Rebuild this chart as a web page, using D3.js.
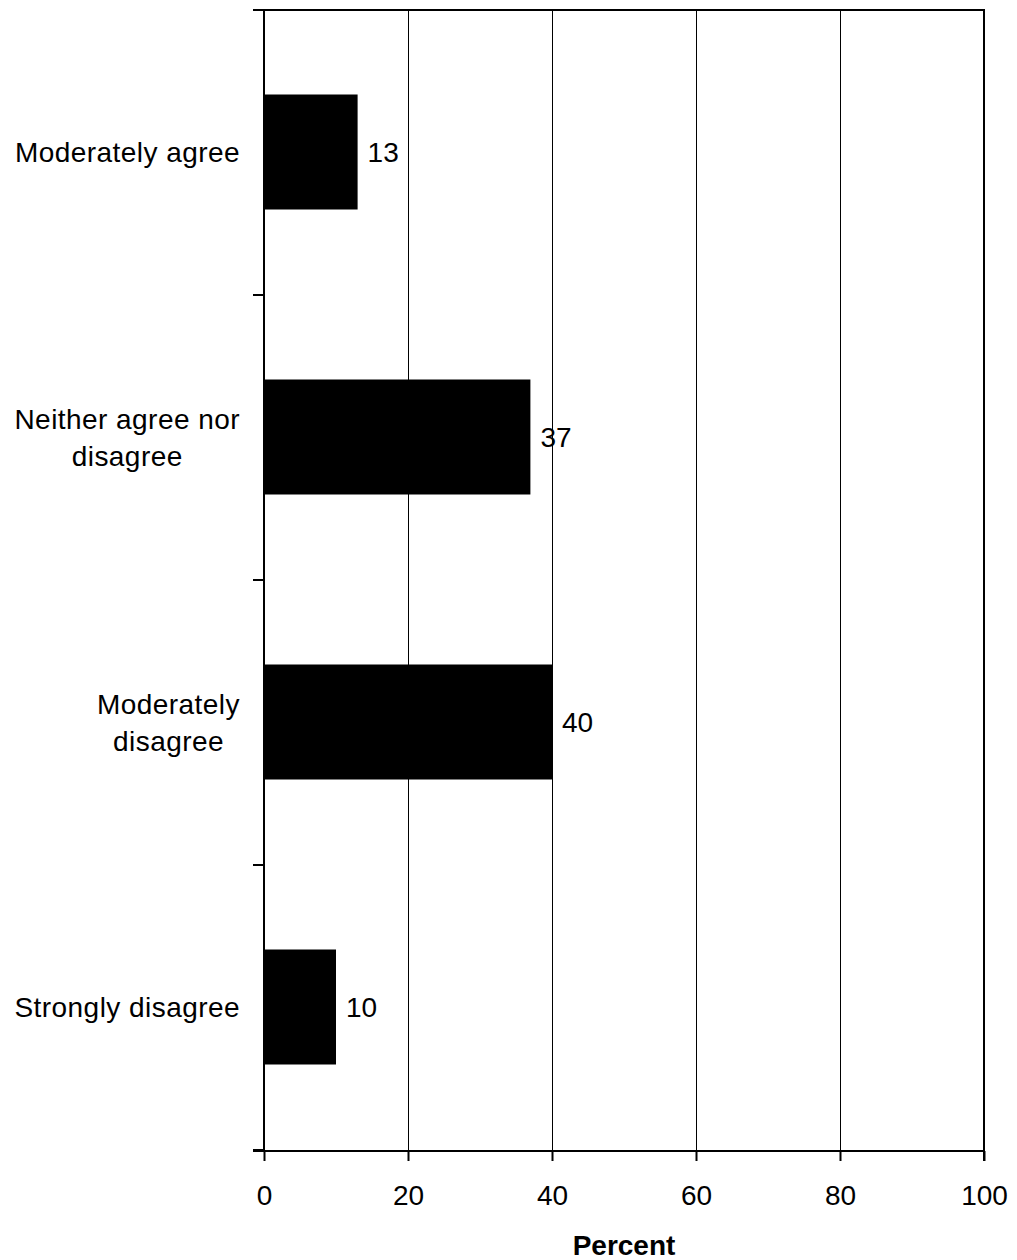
<!DOCTYPE html>
<html>
<head>
<meta charset="utf-8">
<script src="https://cdn.jsdelivr.net/npm/d3@7"></script>
<style>
  html, body { margin: 0; padding: 0; background: #fff; }
  svg { display: block; font-family: "Liberation Sans", Arial, sans-serif; }
</style>
</head>
<body>
<svg id="chart" width="1017" height="1260"></svg>
<script>
// Survey responses (percent of respondents)
const categories = ["Moderately agree", "Neither agree nor disagree", "Moderately disagree", "Strongly disagree"];
const categoryLines = [["Moderately agree"], ["Neither agree nor", "disagree"], ["Moderately", "disagree"], ["Strongly disagree"]];
const values = [13, 37, 40, 10];
const xTicks = [0, 20, 40, 60, 80, 100];
const xTitle = "Percent";

(function drawChart() {
  const svg = d3.select("#chart");
  const fontSize = 28;
  const plotLeft = 264, plotRight = 984, plotTop = 10, plotBottom = 1150;

  const x = d3.scaleLinear().domain([0, 100]).range([plotLeft, plotRight]);
  const y = d3.scaleBand().domain(categories).range([plotTop, plotBottom])
    .paddingInner(0.6).paddingOuter(0.3);

  // vertical gridlines
  svg.append("g").selectAll("line")
    .data(xTicks.filter(t => t > 0 && t < 100))
    .join("line")
    .attr("x1", d => x(d)).attr("x2", d => x(d))
    .attr("y1", plotTop).attr("y2", plotBottom)
    .attr("stroke", "#000").attr("stroke-width", 1)
    .attr("shape-rendering", "crispEdges");

  // bars
  svg.append("g").selectAll("rect")
    .data(categories)
    .join("rect")
    .attr("x", x(0))
    .attr("y", d => y(d) - 1)
    .attr("width", (d, i) => x(values[i]) - x(0))
    .attr("height", y.bandwidth() + 1)
    .attr("fill", "#000");

  // value labels
  svg.append("g").selectAll("text")
    .data(categories)
    .join("text")
    .attr("x", (d, i) => x(values[i]) + 10)
    .attr("y", d => y(d) + y.bandwidth() / 2)
    .attr("dy", "0.35em")
    .attr("font-size", fontSize)
    .attr("fill", "#000")
    .text((d, i) => values[i]);

  // top and right frame lines
  svg.append("line")
    .attr("x1", plotLeft - 11).attr("x2", plotRight + 1)
    .attr("y1", plotTop).attr("y2", plotTop)
    .attr("stroke", "#000").attr("stroke-width", 2);
  svg.append("line")
    .attr("x1", plotRight).attr("x2", plotRight)
    .attr("y1", plotTop - 1).attr("y2", plotBottom + 11)
    .attr("stroke", "#000").attr("stroke-width", 2);

  // x axis
  const xAxis = svg.append("g")
    .attr("transform", `translate(0,${plotBottom + 1})`)
    .call(d3.axisBottom(x).tickValues(xTicks).tickSize(10).tickSizeOuter(0).tickPadding(24));
  xAxis.select(".domain").attr("stroke-width", 2).attr("d", `M${plotLeft - 11},0H${plotRight + 1}`);
  xAxis.selectAll(".tick line").attr("stroke-width", 2);
  xAxis.selectAll(".tick text")
    .attr("font-size", fontSize)
    .attr("font-family", "\"Liberation Sans\", Arial, sans-serif")
    .attr("fill", "#000");

  // y axis line with ticks on category boundaries
  svg.append("line")
    .attr("x1", plotLeft).attr("x2", plotLeft)
    .attr("y1", plotTop - 1).attr("y2", plotBottom + 1)
    .attr("stroke", "#000").attr("stroke-width", 2);
  const boundaries = d3.range(categories.length + 1).map(i => plotTop + i * y.step());
  svg.append("g").selectAll("line")
    .data(boundaries)
    .join("line")
    .attr("x1", plotLeft - 11).attr("x2", plotLeft)
    .attr("y1", d => d).attr("y2", d => d)
    .attr("stroke", "#000").attr("stroke-width", 2);

  // category labels (multi-line, centred within a right-aligned block)
  const lineH = 37;
  const labelRight = 240;
  categories.forEach((c, i) => {
    const lines = categoryLines[i];
    const cy = y(c) + y.bandwidth() / 2;
    const t = svg.append("text")
      .attr("font-size", fontSize)
      .attr("letter-spacing", "0.45px")
      .attr("fill", "#000")
      .attr("text-anchor", "middle");
    const spans = lines.map((ln, j) => t.append("tspan")
      .attr("y", cy + (j - (lines.length - 1) / 2) * lineH)
      .attr("dy", "0.35em")
      .text(ln));
    const w = d3.max(spans, s => s.node().getComputedTextLength());
    spans.forEach(s => s.attr("x", labelRight - w / 2));
  });

  // x axis title
  svg.append("text")
    .attr("x", x(50))
    .attr("y", 1255)
    .attr("text-anchor", "middle")
    .attr("font-size", fontSize)
    .attr("font-weight", "bold")
    .attr("fill", "#000")
    .text(xTitle);
})();
</script>
</body>
</html>
